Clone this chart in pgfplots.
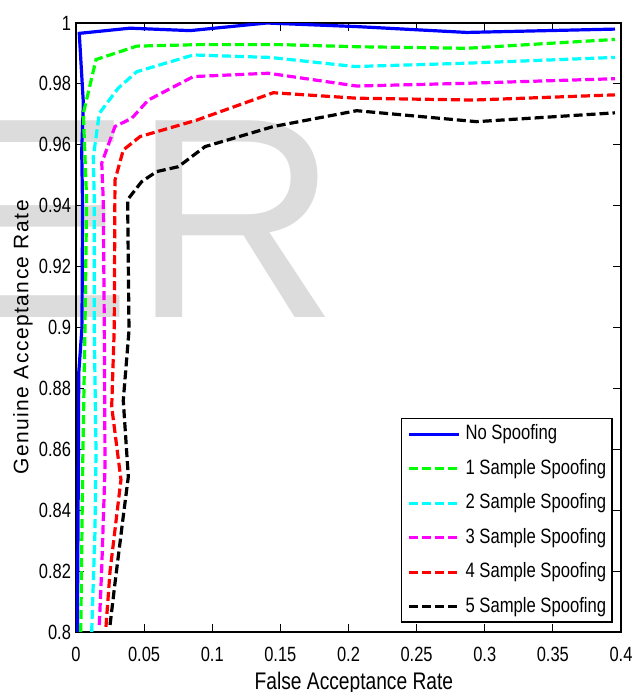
\documentclass[border=0pt]{standalone}
\usepackage{fontspec}
\setmainfont[FakeStretch=0.8]{Liberation Sans}
\newfontfamily\ylabfont[LetterSpace=7]{Liberation Sans}
\newfontfamily\wmfont{Liberation Sans}
\usepackage{pgfplots}
\pgfplotsset{compat=1.18}
\definecolor{wm}{RGB}{220,220,220}
\definecolor{pblue}{RGB}{0,0,255}
\definecolor{pgreen}{RGB}{0,255,0}
\definecolor{pcyan}{RGB}{0,255,255}
\definecolor{pmag}{RGB}{255,0,255}
\definecolor{pred}{RGB}{255,0,0}
\begin{document}
\begin{tikzpicture}
\node[anchor=base west, inner sep=0pt, text=wm] at (-67.5pt,157pt) {\wmfont\fontsize{143}{143}\selectfont ER};
\begin{axis}[
  scale only axis,
  width=272.5pt, height=304.5pt,
  xmin=0, xmax=0.4, ymin=0.8, ymax=1,
  xtick={0,0.05,0.1,0.15,0.2,0.25,0.3,0.35,0.4},
  xticklabels={0,0.05,0.1,0.15,0.2,0.25,0.3,0.35,0.4},
  ytick={0.8,0.82,0.84,0.86,0.88,0.9,0.92,0.94,0.96,0.98,1},
  yticklabels={0.8,0.82,0.84,0.86,0.88,0.9,0.92,0.94,0.96,0.98,1},
  tick pos=both, tick align=inside,
  major tick length=4pt,
  every tick/.style={black, line width=0.5pt},
  axis line style={line width=0.8pt},
  tick label style={font=\fontsize{10.3}{12}\selectfont},
  xticklabel style={yshift=-4pt},
  yticklabel style={xshift=1pt},
  xlabel={False Acceptance Rate},
  ylabel={{\ylabfont Genuine Acceptance Rate}},
  xlabel style={font=\fontsize{12}{14}\selectfont, at={(axis description cs:0.51,-0.0837)}, anchor=center},
  ylabel style={font=\fontsize{10.5}{12}\selectfont, at={(axis description cs:-0.0972,0.4836)}, anchor=center},
  legend cell align=left,
  legend image code/.code={\draw[#1] (0pt,0pt) -- (25pt,0pt);},
  legend style={at={(rel axis cs:0.9853,0.0148)}, anchor=south east,
    font=\fontsize{10.4}{12}\selectfont, draw=black, line width=0.8pt,
    inner xsep=3pt, inner ysep=3pt, row sep=7.75pt,
    nodes={inner sep=0pt, text height=7.5pt, text depth=2pt},
    column sep=2.5pt},
  every axis plot/.append style={line width=1.6pt},
]
\addplot[pblue, solid] coordinates {(0.001,0.8) (0.0018,0.86) (0.002,0.885) (0.0044,0.9) (0.0048,0.94) (0.0042,0.958) (0.0054,0.9737) (0.0024,0.9966) (0.0396,0.9983) (0.0837,0.9975) (0.14,1.0) (0.207,0.9988) (0.2868,0.9969) (0.3956,0.998)};
\addlegendentry{No Spoofing}
\addplot[pgreen, dash pattern=on 4.5pt off 2pt] coordinates {(0.0035,0.8) (0.0049,0.854) (0.0066,0.9) (0.0078,0.942) (0.0066,0.956) (0.0054,0.9703) (0.0147,0.988) (0.0446,0.9924) (0.09,0.9929) (0.15,0.9929) (0.207,0.9922) (0.2868,0.9917) (0.3956,0.9946)};
\addlegendentry{1 Sample Spoofing}
\addplot[pcyan, dash pattern=on 4.5pt off 2pt] coordinates {(0.0115,0.8) (0.0139,0.8325) (0.0147,0.859) (0.0134,0.9) (0.0134,0.942) (0.0127,0.956) (0.0171,0.9703) (0.031,0.9786) (0.0446,0.984) (0.0861,0.9895) (0.1424,0.9887) (0.2048,0.9857) (0.2868,0.9868) (0.3956,0.9887)};
\addlegendentry{2 Sample Spoofing}
\addplot[pmag, dash pattern=on 4.5pt off 2pt] coordinates {(0.0171,0.8023) (0.0189,0.821) (0.0213,0.854) (0.0208,0.899) (0.02,0.942) (0.0189,0.954) (0.0286,0.966) (0.0409,0.9687) (0.0531,0.9747) (0.0861,0.9824) (0.1412,0.9835) (0.206,0.9793) (0.2868,0.9802) (0.3956,0.9817)};
\addlegendentry{3 Sample Spoofing}
\addplot[pred, dash pattern=on 4.5pt off 2pt] coordinates {(0.022,0.8017) (0.025,0.82) (0.033,0.85) (0.0262,0.874) (0.0281,0.9) (0.0286,0.9484) (0.0347,0.9583) (0.047,0.9627) (0.0886,0.9681) (0.1448,0.9771) (0.206,0.9753) (0.2916,0.9747) (0.3956,0.9764)};
\addlegendentry{4 Sample Spoofing}
\addplot[black, dash pattern=on 4.5pt off 2pt] coordinates {(0.025,0.8023) (0.0286,0.816) (0.0347,0.838) (0.0384,0.851) (0.0347,0.876) (0.0389,0.899) (0.0379,0.942) (0.0482,0.9479) (0.0592,0.9512) (0.0751,0.9528) (0.0947,0.9594) (0.1448,0.966) (0.206,0.9712) (0.294,0.9676) (0.3956,0.9705)};
\addlegendentry{5 Sample Spoofing}
\end{axis}
\pgfresetboundingbox
\path (-38pt,-30pt) rectangle (278.5pt,316pt);
\end{tikzpicture}
\end{document}
